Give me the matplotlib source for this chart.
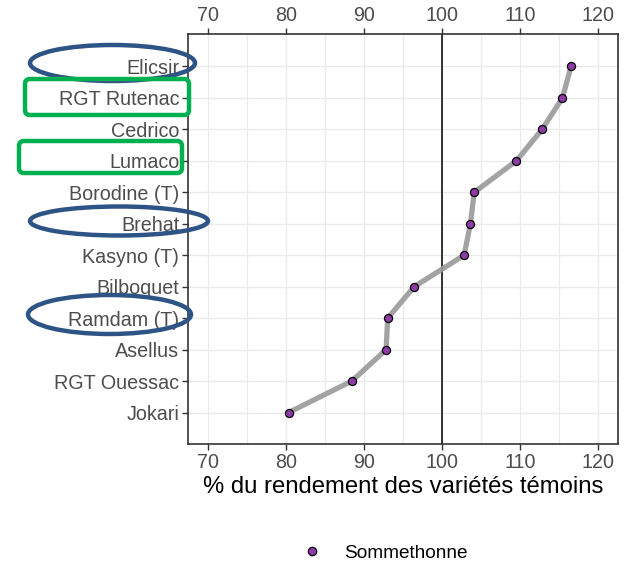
import numpy as np
import matplotlib
matplotlib.use("Agg")
import matplotlib.pyplot as plt
from matplotlib.patches import Ellipse, FancyBboxPatch
from matplotlib.lines import Line2D

plt.rcParams["font.family"] = ["Liberation Sans", "DejaVu Sans"]

# ─── DATA ────────────────────────────────────────────────
varietes = ["Elicsir", "RGT Rutenac", "Cedrico", "Lumaco", "Borodine (T)",
            "Brehat", "Kasyno (T)", "Bilboquet", "Ramdam (T)", "Asellus",
            "RGT Ouessac", "Jokari"]
rendement = [116.5, 115.4, 112.8, 109.5, 104.1, 103.6, 102.8, 96.4, 93.0,
             92.8, 88.4, 80.3]
site = "Sommethonne"
x_ticks = [70, 80, 90, 100, 110, 120]

GRID = "#EBEBEB"; TXT = "#4D4D4D"; PURPLE = "#8E3BA8"
BLUE = "#2E5385"; GREEN = "#00B050"

fig = plt.figure(figsize=(6.27, 5.61), dpi=100)
ax = fig.add_axes([188.3 / 627, 1 - 444 / 561, 430 / 627, 409.7 / 561])

ypos = np.arange(len(varietes))[::-1]

# grid
for v in np.arange(65, 125, 5):
    ax.axvline(v, color=GRID, lw=1.0, zorder=0)
for y in ypos:
    ax.axhline(y, color=GRID, lw=1.0, zorder=0)
ax.axvline(100, color="#333333", lw=1.4, zorder=1)

ax.plot(rendement, ypos, color="#999999", lw=3.8, alpha=0.9,
        solid_capstyle="round", zorder=2)
ax.scatter(rendement, ypos, s=34, color=PURPLE, edgecolor="black",
           linewidth=0.9, zorder=3)

ax.set_xlim(67.44, 122.56)
ax.set_ylim(-1.0, 12.02)
ax.set_xticks(x_ticks)
ax.set_yticks(ypos)
ax.set_yticklabels(varietes)
ax.tick_params(axis="both", labelsize=14.2, colors="#333333",
               labelcolor=TXT, length=4.5, width=1.0, pad=2)
ax.tick_params(axis="x", top=True, labeltop=True, pad=2)
for s in ax.spines.values():
    s.set_color("#333333")
    s.set_linewidth(1.2)

ax.set_xlabel("% du rendement des variétés témoins", fontsize=17.2,
              color="black", labelpad=3)

# legend
h = Line2D([], [], marker="o", linestyle="none", markersize=6,
           markerfacecolor=PURPLE, markeredgecolor="black",
           markeredgewidth=0.9)
fig.legend([h], [site], loc="center", bbox_to_anchor=(385 / 627, 1 - 553 / 561),
           frameon=False, fontsize=13.7, handlelength=1.0, handletextpad=1.2,
           labelcolor="black")

# ─── ANNOTATIONS ─────────────────────────────────────────
ov = fig.add_axes([0, 0, 1, 1], zorder=10)
ov.set_xlim(0, 627); ov.set_ylim(561, 0)
ov.axis("off"); ov.patch.set_alpha(0)

for cx, cy, w, hgt in [(112.5, 63, 165, 36), (119, 221, 178, 29),
                       (109.5, 314.5, 163, 39)]:
    ov.add_patch(Ellipse((cx, cy), w, hgt, fill=False, ec=BLUE, lw=3.2))

for x0, y0, x1, y1 in [(25, 79, 189, 115), (19, 141, 182, 173)]:
    ov.add_patch(FancyBboxPatch((x0, y0), x1 - x0, y1 - y0,
                                boxstyle="round,pad=0,rounding_size=5",
                                fill=False, ec=GREEN, lw=3.2))

fig.savefig("out.png", dpi=100)
